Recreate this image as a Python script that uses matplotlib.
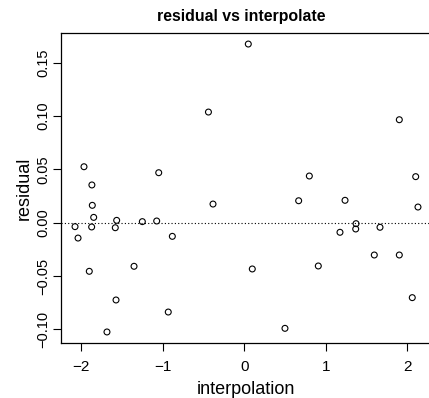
import matplotlib
matplotlib.use("Agg")
import matplotlib.pyplot as plt

plt.rcParams['font.family'] = ['Liberation Sans', 'DejaVu Sans']

interpolation = [0.049, -0.44, -1.967, -1.05, -1.87, 1.902, 0.798, 2.103,
                 -1.865, -0.384, -1.848, -1.566, -1.251, -1.075, -2.077, -1.873,
                 -1.583, -2.04, -0.883, -1.902, -1.353, -1.574, -0.933, -1.685,
                 0.667, 1.236, 2.131, 1.371, 1.174, 1.367, 1.665, 1.595,
                 1.902, 0.098, 0.908, 2.061, 0.499]
residual = [0.1676, 0.1038, 0.0525, 0.0469, 0.0354, 0.0966, 0.0438, 0.0432,
            0.0163, 0.0175, 0.0050, 0.0022, 0.0010, 0.0016, -0.0037, -0.0040,
            -0.0047, -0.0144, -0.0128, -0.0456, -0.0409, -0.0725, -0.0838, -0.1025,
            0.0206, 0.0210, 0.0147, -0.0009, -0.0090, -0.0059, -0.0043, -0.0303,
            -0.0303, -0.0434, -0.0406, -0.0703, -0.0991]

xticks = [-2, -1, 0, 1, 2]
yticks = [-0.10, -0.05, 0.00, 0.05, 0.10, 0.15]
ytick_labels = ["\u22120.10", "\u22120.05", "0.00", "0.05", "0.10", "0.15"]
xtick_labels = ["\u22122", "\u22121", "0", "1", "2"]

W, H = 429, 398
fig = plt.figure(figsize=(W / 100, H / 100), dpi=100)
left_px, right_px, top_px, bottom_px = 61, 431, 32.7, 343
ax = fig.add_axes([left_px / W, (H - bottom_px) / H,
                   (right_px - left_px) / W, (bottom_px - top_px) / H])

ax.scatter(interpolation, residual, s=18, facecolors='none', edgecolors='black',
           linewidths=0.8, zorder=3)
ax.axhline(0, color='black', linestyle=(0, (1, 2)), linewidth=0.8)

x0 = 244.3
xs = 81.5
ax.set_xlim((left_px - x0) / xs, (right_px - x0) / xs)
y0 = 222.7
ys = 1066
ax.set_ylim((y0 - bottom_px) / ys, (y0 - top_px) / ys)

ax.set_xticks(xticks)
ax.set_xticklabels(xtick_labels, fontsize=11)
ax.set_yticks(yticks)
ax.set_yticklabels(ytick_labels, fontsize=10.5, rotation=90, va='center')
ax.tick_params(axis='x', direction='out', length=6, width=0.8, pad=6)
ax.tick_params(axis='y', direction='out', length=6, width=0.8, pad=2)

for sp in ax.spines.values():
    sp.set_linewidth(0.9)

ax.set_xlabel("interpolation", fontsize=13, labelpad=5)
ax.set_ylabel("residual", fontsize=13, labelpad=2)
fig.text(241.7 / W, (H - 16) / H, "residual vs interpolate",
         ha='center', va='center', fontsize=11.4, fontweight='bold')

fig.savefig("out.png", dpi=100)
